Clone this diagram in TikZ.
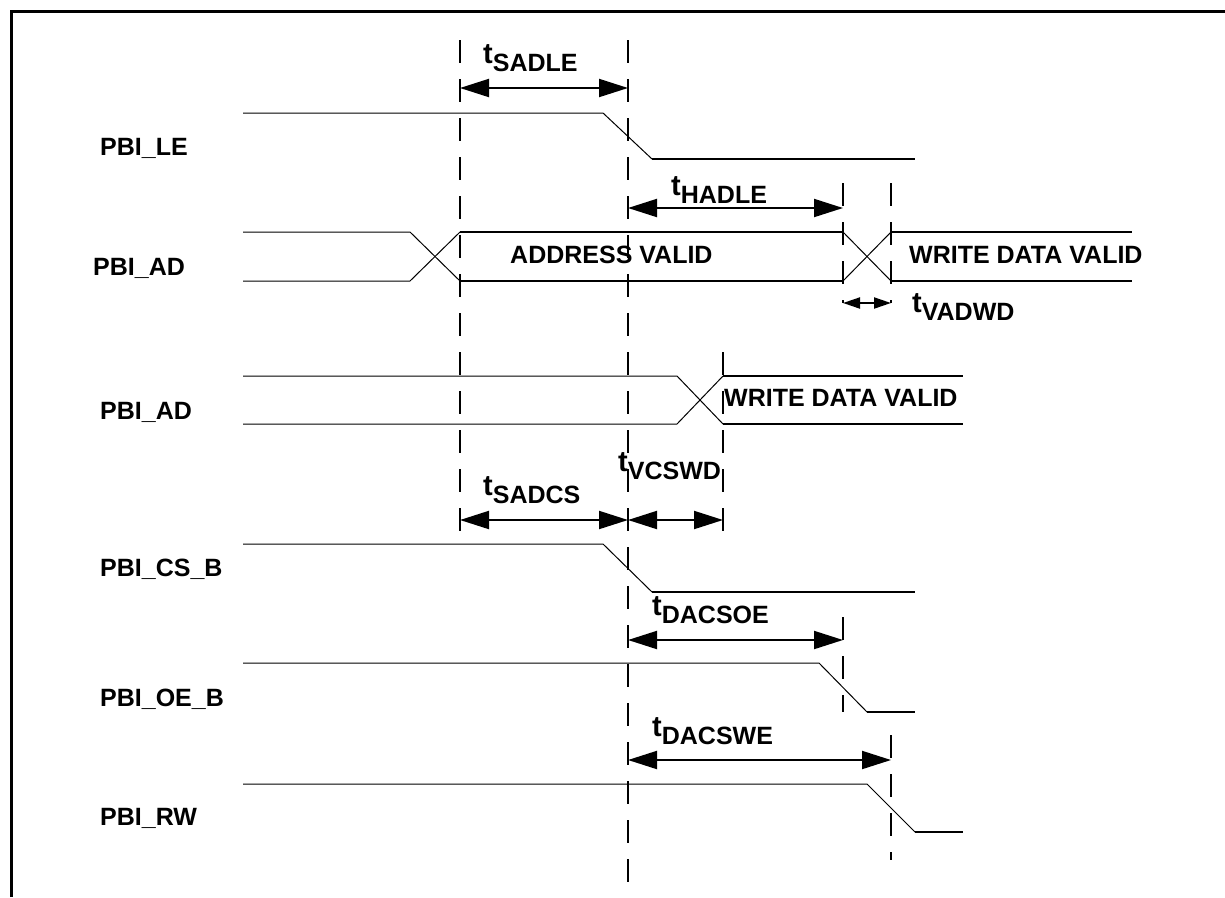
\documentclass[tikz,border=0pt]{standalone}
\usepackage{fontspec}
\setmainfont{Liberation Sans}
\usetikzlibrary{
  arrows.meta,
  positioning,
  calc
}
\definecolor{linecolor}{RGB}{0, 0, 0}
\definecolor{labelcolor}{RGB}{0, 0, 0}
\newcommand{\tsub}[1]{{\fontsize{29}{32}\selectfont t}\raisebox{-8pt}{\fontsize{25}{28}\selectfont #1}}
\tikzset{
sigthin/.style={
  draw=linecolor,
  line width=1pt
},
sigthick/.style={
  draw=linecolor,
  line width=2pt
},
guide/.style={
  draw=linecolor,
  line width=2pt,
  dash pattern=on 23pt off 16pt
},
frame/.style={
  draw=linecolor,
  line width=3pt
},
signame/.style={
  font=\bfseries\fontsize{25}{28}\selectfont,
  text=labelcolor,
  anchor=base west,
  inner sep=0pt
},
timelabel/.style={
  font=\bfseries,
  text=labelcolor,
  anchor=base west,
  inner sep=0pt
},
timearrow/.style={
  {Triangle[length=29pt,width=18pt]}-{Triangle[length=29pt,width=18pt]},
  line width=2pt,
  draw=linecolor
},
shortarrow/.style={
  {Triangle[length=17pt,width=11pt]}-{Triangle[length=17pt,width=11pt]},
  line width=2pt,
  draw=linecolor
}
}
\begin{document}
\begin{tikzpicture}[x=1pt, y=-1pt]
  \useasboundingbox (0,0) rectangle (1225,897);
  % Guide positions
  \def\xA{460}   % address setup
  \def\xB{628}   % LE / CS edge
  \def\xC{843}   % hold end
  \def\xD{891}   % data valid / RW edge
  \def\xE{723}   % write data valid
  \def\xS{243}   % signal start

  % Frame
  \draw[frame] (11,897) -- (11,11) -- (1225,11);

  % Guide lines
  \draw[guide] (\xA,40) -- (\xA,544);
  \draw[guide] (\xB,40) -- (\xB,882);
  \draw[guide] (\xC,183) -- (\xC,303);
  \draw[guide] (\xC,617) -- (\xC,712);
  \draw[guide] (\xD,183) -- (\xD,303);
  \draw[guide] (\xD,735) -- (\xD,860);
  \draw[guide] (\xE,352) -- (\xE,543);

  % PBI_LE
  \node[signame] (le) at (100,155) {PBI\_LE};
  \draw[sigthin] (\xS,113) -- (603,113) -- (652,159);
  \draw[sigthick] (652,159) -- (915,159);

  % PBI_AD, address phase
  \node[signame] (ad1) at (93,275) {PBI\_AD};
  \draw[sigthin] (\xS,232) -- (410,232) -- (\xA,281);
  \draw[sigthin] (\xS,281) -- (410,281) -- (\xA,232);
  \draw[sigthick] (\xA,232) -- (\xC,232) (\xA,281) -- (\xC,281);
  \draw[sigthin] (\xC,232) -- (\xD,281) (\xC,281) -- (\xD,232);
  \draw[sigthick] (\xD,232) -- (1132,232) (\xD,281) -- (1132,281);
  \node[signame] (addr) at (510,263) {ADDRESS VALID};
  \node[signame] (wdv1) at (909,263) {WRITE DATA VALID};

  % PBI_AD, data phase
  \node[signame] (ad2) at (100,419) {PBI\_AD};
  \draw[sigthin] (\xS,376) -- (677,376) -- (\xE,424);
  \draw[sigthin] (\xS,424) -- (677,424) -- (\xE,376);
  \draw[sigthick] (\xE,376) -- (963,376) (\xE,424) -- (963,424);
  \node[signame] (wdv2) at (724,406) {WRITE DATA VALID};

  % PBI_CS_B
  \node[signame] (cs) at (100,576) {PBI\_CS\_B};
  \draw[sigthin] (\xS,544) -- (603,544) -- (652,592);
  \draw[sigthick] (652,592) -- (915,592);

  % PBI_OE_B
  \node[signame] (oe) at (100,706) {PBI\_OE\_B};
  \draw[sigthin] (\xS,663) -- (819,663) -- (867,712);
  \draw[sigthick] (867,712) -- (915,712);

  % PBI_RW
  \node[signame] (rw) at (100,825) {PBI\_RW};
  \draw[sigthin] (\xS,784) -- (867,784) -- (915,832);
  \draw[sigthick] (915,832) -- (963,832);

  % Timing arrows
  \coordinate (sadleL) at (\xA,88);   \coordinate (sadleR) at (\xB,88);
  \coordinate (hadleL) at (\xB,208);  \coordinate (hadleR) at (\xC,208);
  \coordinate (vadwdL) at (\xC,303);  \coordinate (vadwdR) at (\xD,303);
  \coordinate (sadcsL) at (\xA,520);  \coordinate (sadcsR) at (\xB,520);
  \coordinate (vcswdL) at (\xB,520);  \coordinate (vcswdR) at (\xE,520);
  \coordinate (dacsoeL) at (\xB,640); \coordinate (dacsoeR) at (\xC,640);
  \coordinate (dacsweL) at (\xB,760); \coordinate (dacsweR) at (\xD,760);

  \draw[timearrow] (sadleL) -- (sadleR);
  \draw[timearrow] (hadleL) -- (hadleR);
  \draw[shortarrow] (vadwdL) -- (vadwdR);
  \draw[timearrow] (sadcsL) -- (sadcsR);
  \draw[timearrow] (vcswdL) -- (vcswdR);
  \draw[timearrow] (dacsoeL) -- (dacsoeR);
  \draw[timearrow] (dacsweL) -- (dacsweR);

  % Timing labels
  \node[timelabel] (tsadle) at (483,63) {\tsub{SADLE}};
  \node[timelabel] (thadle) at (671,195) {\tsub{HADLE}};
  \node[timelabel] (tvadwd) at (912,312) {\tsub{VADWD}};
  \node[timelabel] (tsadcs) at (483,495) {\tsub{SADCS}};
  \node[timelabel] (tvcswd) at (618,471) {\tsub{VCSWD}};
  \node[timelabel] (tdacsoe) at (652,615) {\tsub{DACSOE}};
  \node[timelabel] (tdacswe) at (652,736) {\tsub{DACSWE}};
\end{tikzpicture}
\end{document}
